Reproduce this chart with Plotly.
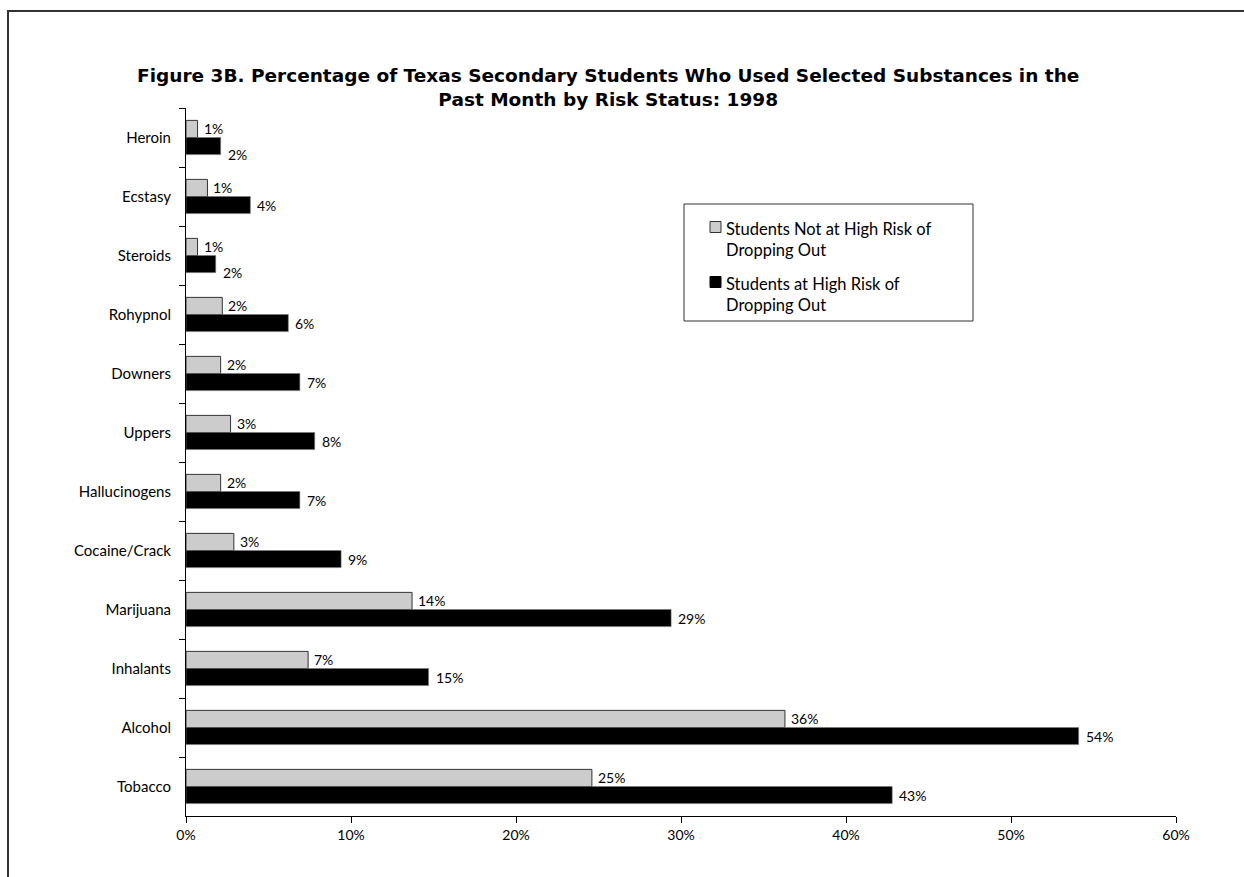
import plotly.graph_objects as go

# Past-month use by substance, Texas secondary students, 1998
categories = ["Heroin", "Ecstasy", "Steroids", "Rohypnol", "Downers", "Uppers",
              "Hallucinogens", "Cocaine/Crack", "Marijuana", "Inhalants",
              "Alcohol", "Tobacco"]
not_high_risk = [0.7, 1.3, 0.7, 2.2, 2.1, 2.7, 2.1, 2.9, 13.7, 7.4, 36.3, 24.6]
high_risk = [2.1, 3.9, 1.8, 6.2, 6.9, 7.8, 6.9, 9.4, 29.4, 14.7, 54.1, 42.8]

series_names = ["Students Not at High Risk of Dropping Out",
                "Students at High Risk of Dropping Out"]
legend_labels = ["Students Not at High Risk of<br>Dropping Out",
                 "Students at High Risk of<br>Dropping Out"]
title_text = ("Figure 3B. Percentage of Texas Secondary Students Who Used Selected Substances in the<br>"
              "Past Month by Risk Status: 1998")
x_ticks = [0, 10, 20, 30, 40, 50, 60]

FONT = "Lato, 'Open Sans', sans-serif"
TITLE_FONT = "'DejaVu Sans', 'Open Sans', sans-serif"
NARROW = "'Liberation Sans Narrow', 'Arial Narrow', Lato, sans-serif"

fills = ["#CCCCCC", "#000000"]
edges = ["#333333", "#777777"]

fig = go.Figure()
fig.add_trace(go.Bar(
    y=categories, x=not_high_risk, orientation="h", name=series_names[0],
    marker=dict(color=fills[0], line=dict(color=edges[0], width=1)),
))
fig.add_trace(go.Bar(
    y=categories, x=high_risk, orientation="h", name=series_names[1],
    marker=dict(color=fills[1], line=dict(color=edges[1], width=0.6)),
))

annotations = []
shapes = []

# value labels at the end of each bar
for cat, lo, hi in zip(categories, not_high_risk, high_risk):
    annotations.append(dict(
        x=lo, y=cat, xref="x", yref="y", text=f"{lo:.0f}%", showarrow=False,
        xanchor="left", yanchor="middle", xshift=4, yshift=9,
        font=dict(family=NARROW, size=14, color="black")))
    crowded = (hi - lo) < 2.0
    annotations.append(dict(
        x=hi, y=cat, xref="x", yref="y", text=f"{hi:.0f}%", showarrow=False,
        xanchor="left", yanchor="middle", xshift=5,
        yshift=-17 if crowded else -8.5,
        font=dict(family=NARROW, size=14, color="black")))


def px_x(p):
    return (p - 186) / 990.0


def px_y(p):
    return (816 - p) / 708.0


# two-line title
annotations.append(dict(
    x=px_x(608), y=px_y(88), xref="paper", yref="paper", xanchor="center",
    yanchor="middle", showarrow=False, align="center", text=f"<b>{title_text}</b>",
    font=dict(family=TITLE_FONT, size=18.5, color="black")))

# boxed legend
shapes.append(dict(type="rect", xref="paper", yref="paper",
                   x0=px_x(684), x1=px_x(973), y0=px_y(321), y1=px_y(204),
                   line=dict(color="#333333", width=1), fillcolor="white"))
for k, (label, top) in enumerate(zip(legend_labels, [227, 282])):
    shapes.append(dict(type="rect", xref="paper", yref="paper",
                       x0=px_x(710), x1=px_x(721), y0=px_y(top + 5.5), y1=px_y(top - 5.5),
                       line=dict(color=edges[0] if k == 0 else "#000000", width=1),
                       fillcolor=fills[k]))
    annotations.append(dict(
        x=px_x(724), y=px_y(top - 10), xref="paper", yref="paper",
        xanchor="left", yanchor="top", showarrow=False, align="left", text=label,
        font=dict(family=FONT, size=16.5, color="black")))

# outer frame
shapes.append(dict(type="rect", xref="paper", yref="paper",
                   x0=px_x(8), x1=1.2, y0=-0.3, y1=px_y(11),
                   line=dict(color="#333333", width=2), layer="below"))

fig.update_layout(
    width=1244, height=877,
    margin=dict(l=186, r=68, t=108, b=61),
    paper_bgcolor="white", plot_bgcolor="white",
    barmode="group", bargap=0.42, bargroupgap=0,
    font=dict(family=FONT, size=15, color="black"),
    showlegend=False,
    annotations=annotations,
    shapes=shapes,
)

fig.update_xaxes(
    range=[0, 60], tickvals=x_ticks, ticktext=[f"{v}%" for v in x_ticks],
    showgrid=False, zeroline=False, showline=True, linecolor="black", linewidth=1,
    ticks="outside", ticklen=6, tickcolor="black",
    tickfont=dict(family=FONT, size=14, color="black"),
)
fig.update_yaxes(
    autorange="reversed", type="category",
    showgrid=False, zeroline=False, showline=True, linecolor="black", linewidth=1,
    ticks="outside", ticklen=6, tickcolor="black", tickson="boundaries",
    ticklabelstandoff=11,
    tickfont=dict(family=FONT, size=15, color="black"),
)

fig.write_html("out.html")
